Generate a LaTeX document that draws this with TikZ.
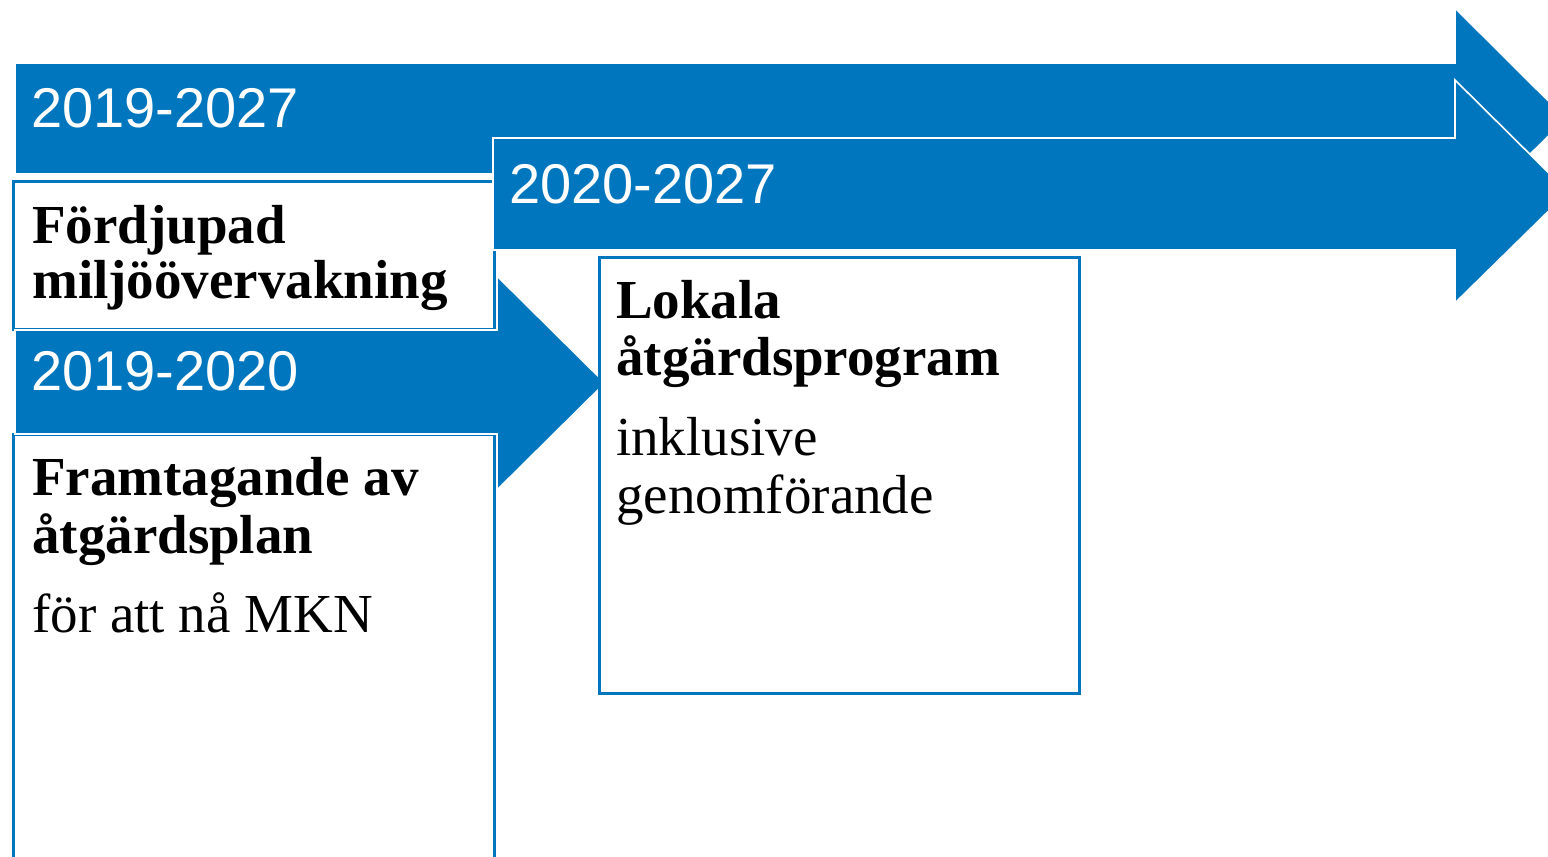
\documentclass[tikz,border=0pt]{standalone}
\usepackage{fontspec}
\setmainfont{Liberation Serif}
\newfontfamily\arialfont{Liberation Sans}
\definecolor{tblue}{RGB}{0,118,190}
\tikzset{
  band/.style={fill=tblue, draw=white, line width=1.6pt, line join=miter},
  boxframe/.style={draw=tblue, line width=2.6pt, fill=white},
  yeartext/.style={anchor=base west, inner sep=0pt, text=white, font=\arialfont\fontsize{56}{60}\selectfont},
  headtext/.style={anchor=base west, inner sep=0pt, font=\bfseries\fontsize{55}{57}\selectfont},
  bodytext/.style={anchor=base west, inner sep=0pt, font=\fontsize{55}{57}\selectfont}
}
\begin{document}
\begin{tikzpicture}[x=1pt,y=-1pt]
\clip (0,0) rectangle (1548,857);
\fill[white] (0,0) rectangle (1548,857);
% arrow 1: 2019-2027
\draw[band] (15,63) -- (1455,63) -- (1455,8) -- (1566,118.5) -- (1455,229) -- (1455,174) -- (15,174) -- cycle;
% box: Fördjupad miljöövervakning
\node[boxframe, anchor=north west, minimum width=481pt, minimum height=148pt, inner sep=0pt] (fbox) at (12,180) {};
% arrow 2: 2020-2027
\draw[band] (493,138) -- (1455,138) -- (1455,80) -- (1568,192) -- (1455,303) -- (1455,250) -- (493,250) -- cycle;
% box: Framtagande av åtgärdsplan
\node[boxframe, anchor=north west, minimum width=481pt, minimum height=450pt, inner sep=0pt] (abox) at (12,433) {};
% arrow 3: 2019-2020
\draw[band] (15,330) -- (497,330) -- (497,276) -- (605,383) -- (497,490) -- (497,434) -- (15,434) -- cycle;
% box: Lokala åtgärdsprogram
\node[boxframe, anchor=north west, minimum width=480pt, minimum height=436pt, inner sep=0pt] (lbox) at (598,256) {};

% year labels
\node[yeartext] (y1) at (31,127) {2019-2027};
\node[yeartext] (y2) at (509,203) {2020-2027};
\node[yeartext] (y3) at (31,390) {2019-2020};

% texts
\node[headtext] (f1) at (32,243) {Fördjupad};
\node[headtext] (f2) at (32,298) {miljöövervakning};

\node[headtext] (a1) at (32,495) {Framtagande av};
\node[headtext] (a2) at (32,553) {åtgärdsplan};
\node[bodytext] (a3) at (32,632) {för att nå MKN};

\node[headtext] (l1) at (616,318) {Lokala};
\node[headtext] (l2) at (616,375) {åtgärdsprogram};
\node[bodytext] (l3) at (616,455) {inklusive};
\node[bodytext] (l4) at (616,513) {genomförande};
\end{tikzpicture}
\end{document}
